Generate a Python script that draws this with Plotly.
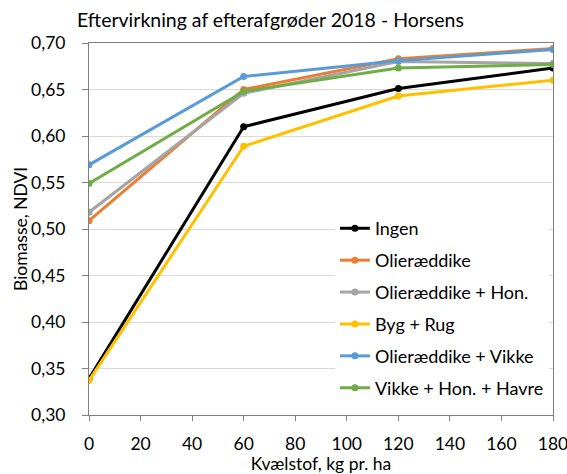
import plotly.graph_objects as go

x_vals = [0, 60, 120, 180]
series_names = ["Ingen", "Olieræddike", "Olieræddike + Hon.", "Byg + Rug",
                "Olieræddike + Vikke", "Vikke + Hon. + Havre"]
ingen = [0.339, 0.610, 0.651, 0.673]
olieraeddike = [0.509, 0.650, 0.683, 0.694]
olie_hon = [0.518, 0.646, 0.680, 0.678]
byg_rug = [0.337, 0.589, 0.643, 0.660]
olie_vikke = [0.569, 0.664, 0.681, 0.693]
vikke_hon_havre = [0.549, 0.648, 0.673, 0.677]
colors = ["#000000", "#ED7D31", "#A5A5A5", "#FFC000", "#5B9BD5", "#70AD47"]
x_ticks = [0, 20, 40, 60, 80, 100, 120, 140, 160, 180]

values = [ingen, olieraeddike, olie_hon, byg_rug, olie_vikke, vikke_hon_havre]

FONT = "Lato, Carlito, Calibri, sans-serif"
FS = 17.5
W, H = 567, 474
ML, MR, MT, MB = 89, 14, 43, 59

fig = go.Figure()
for i, (name, vals, col) in enumerate(zip(series_names, values, colors)):
    fig.add_trace(go.Scatter(
        x=x_vals, y=vals, name=name, mode="lines+markers",
        line=dict(color=col, width=3),
        marker=dict(color=col, size=7),
        legendgroup=f"g{i}",
    ))

fig.add_annotation(text="Biomasse, NDVI", textangle=-90,
                   xref="paper", yref="paper",
                   x=(20 - ML) / (W - ML - MR), y=0.5,
                   xanchor="center", yanchor="middle", showarrow=False,
                   font=dict(family=FONT, size=FS, color="#000000"))

fig.update_layout(
    width=W, height=H,
    margin=dict(l=ML, r=MR, t=MT, b=MB, autoexpand=False),
    paper_bgcolor="white", plot_bgcolor="white",
    separators=",.",
    font=dict(family=FONT, size=FS, color="#000000"),
    title=dict(text="Eftervirkning af efterafgrøder 2018 - Horsens",
               x=77 / W, xanchor="left", y=1 - 20 / H, yanchor="middle",
               font=dict(family=FONT, size=19.5, color="#000000")),
    showlegend=True,
    legend=dict(x=0.530, xanchor="left", y=0.024, yanchor="bottom",
                bgcolor="white", borderwidth=0,
                font=dict(family=FONT, size=18, color="#000000"),
                traceorder="grouped", tracegroupgap=5.5),
    xaxis=dict(range=[0, 180], tickvals=x_ticks, automargin=False,
               showgrid=False, showline=True, linecolor="#7F7F7F", linewidth=1,
               mirror=True, ticks="outside", ticklen=5, tickcolor="#7F7F7F",
               zeroline=False, ticklabelstandoff=8, ticklabeloverflow="allow",
               title=dict(text="Kvælstof, kg pr. ha", font=dict(family=FONT, size=FS), standoff=6),
               tickfont=dict(family=FONT, size=FS)),
    yaxis=dict(range=[0.30, 0.70], dtick=0.05, tickformat=".2f", automargin=False,
               showgrid=True, gridcolor="#D9D9D9", gridwidth=1,
               showline=True, linecolor="#7F7F7F", linewidth=1, mirror=True,
               ticks="outside", ticklen=6, tickcolor="#7F7F7F", zeroline=False,
               ticklabelstandoff=13, ticklabeloverflow="allow",
               tickfont=dict(family=FONT, size=FS)),
)

fig.write_html("out.html", config={"displayModeBar": False},
               post_script="document.body.style.margin='0';document.body.style.overflow='hidden';")
